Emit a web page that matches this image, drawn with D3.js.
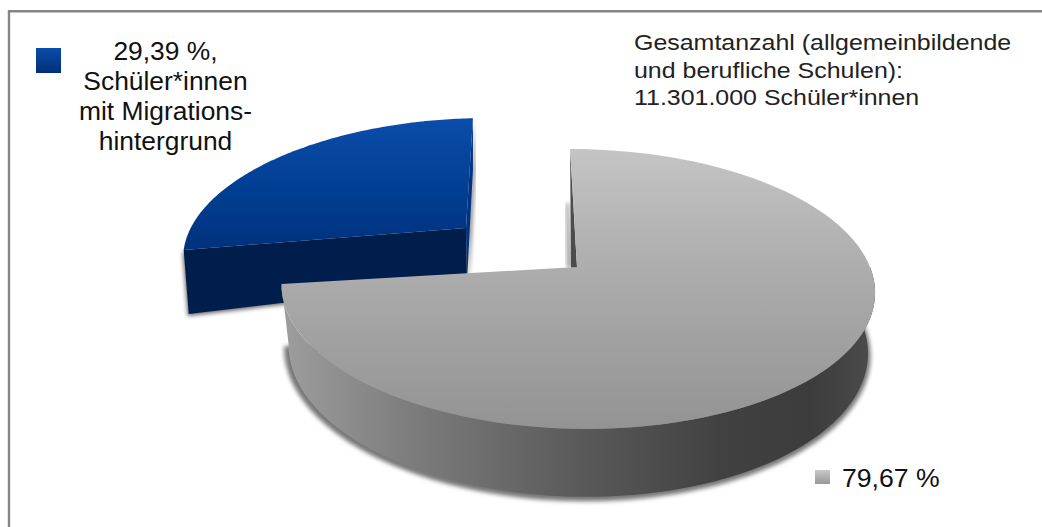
<!DOCTYPE html>
<html lang="de">
<head>
<meta charset="utf-8">
<script src="https://cdn.jsdelivr.net/npm/d3@7"></script>
<style>
  html, body { margin: 0; padding: 0; background: #fff; }
  svg { display: block; }
  text { font-family: "Liberation Sans", Arial, sans-serif; fill: #111; }
</style>
</head>
<body>
<svg id="chart" width="1042" height="527"></svg>
<script>
// Anteile der Schülerinnen und Schüler, wie sie in der Legende stehen
const categories = ["Schüler*innen mit Migrationshintergrund", "Übrige"];
const shares = [29.39, 79.67];
const legendLines = [["29,39 %,", "Schüler*innen", "mit Migrations-", "hintergrund"], ["79,67 %"]];
const noteLines = ["Gesamtanzahl (allgemeinbildende", "und berufliche Schulen):", "11.301.000 Schüler*innen"];

const svg = d3.select("#chart");
const defs = svg.append("defs");

function linear(id, x1, y1, x2, y2, stops) {
  const g = defs.append("linearGradient").attr("id", id)
    .attr("gradientUnits", "userSpaceOnUse")
    .attr("x1", x1).attr("y1", y1).attr("x2", x2).attr("y2", y2);
  stops.forEach(([o, c]) => g.append("stop").attr("offset", o).attr("stop-color", c));
}
linear("greyTop", 0, 150, 0, 430, [[0, "#c4c4c4"], [0.5, "#a9a9a9"], [1, "#939393"]]);
linear("greyWall", 288, 0, 868, 0, [[0, "#9c9c9c"], [0.2, "#7e7e7e"], [0.5, "#5a5a5a"], [0.75, "#414141"], [0.9, "#3c3c3c"], [1, "#4a4a4a"]]);
linear("blueTop", 0, 118, 0, 262, [[0, "#0a4daa"], [0.55, "#003d90"], [1, "#002f78"]]);
linear("blueKey", 0, 48, 0, 73, [[0, "#0a4daa"], [1, "#002f78"]]);
linear("greyKey", 0, 470, 0, 484, [[0, "#c8c8c8"], [1, "#989898"]]);
defs.append("filter").attr("id", "soft")
  .attr("x", "-5%").attr("y", "-5%").attr("width", "110%").attr("height", "110%")
  .append("feGaussianBlur").attr("stdDeviation", 2);

// Rahmenlinien links und oben
const frame = svg.append("g").attr("stroke", "#858585").attr("stroke-width", 2.4).attr("fill", "none");
frame.append("path").attr("d", d3.line()([[9, 527], [9, 11.2], [1042, 11.2]]));

// Tortensegmente im Uhrzeigersinn ab 12 Uhr, größtes Segment zuerst
const order = [1, 0];
const pie = d3.pie().sort(null).value(i => shares[i]);
const arcs = pie(order);
const greyArc = arcs[0], blueArc = arcs[1];

// Perspektivische Abbildung der Kreisscheibe auf die Bildebene
const persp = 0.157;
function projector(p) {
  const sx = d3.scaleLinear().domain([-1, 1]).range([p.x - p.rx, p.x + p.rx]);
  const sy = d3.scaleLinear().domain([-1, 1]).range([p.y - p.ry, p.y + p.ry]);
  return (theta, r = 1) => {
    const u = r * Math.sin(theta), v = -r * Math.cos(theta), w = 1 - persp * v;
    const a = u / w, b = v / w;
    return [sx(a) + (p.skew || 0) * b, sy(b) - (p.roll || 0) * a];
  };
}
const greyUp = projector({ x: 577, y: 267, rx: 293, ry: 136.5, skew: 8 });
const greyDn = projector({ x: 577, y: 326, rx: 286, ry: 144, skew: 8 });
const blueUp = projector({ x: 466, y: 228, rx: 278, ry: 127, skew: -8, roll: 6 });
const blueDn = projector({ x: 467, y: 281, rx: 274, ry: 127, skew: -8, roll: 17 });

const line = d3.line();
const sweep = (from, to) => d3.range(0, 121).map(i => from + (to - from) * i / 120);
const rim = (proj, from, to) => sweep(from, to).map(t => proj(t));
const poly = pts => line(pts) + "Z";
const shift = (pts, dx, dy) => pts.map(([x, y]) => [x + dx, y + dy]);

// Abgerücktes blaues Segment
const blue = svg.append("g");
const bS = blueArc.startAngle, bE = blueArc.endAngle;
const blueFront = [blueUp(bS), blueUp(0, 0), blueDn(0, 0), blueDn(bS)];
const blueSide = [blueUp(bE), [blueUp(bE)[0], blueUp(bE)[1] + 52], blueDn(0, 0), blueUp(0, 0)];
blue.append("path").attr("d", poly(shift(blueFront, -1, 2)))
  .attr("fill", "#666").attr("filter", "url(#soft)");
blue.append("path").attr("d", poly(shift(blueSide, 2, 2)))
  .attr("fill", "#777").attr("filter", "url(#soft)");
blue.append("path").attr("d", poly(blueSide)).attr("fill", "#003286");
blue.append("path").attr("d", poly(blueFront)).attr("fill", "#001d4b");
blue.append("path").attr("d", poly([...rim(blueUp, bE, bS), blueUp(0, 0)])).attr("fill", "url(#blueTop)");

// Großes graues Segment
const grey = svg.append("g");
const gS = greyArc.startAngle, gE = greyArc.endAngle;
const wallFrom = Math.PI * 0.5;
const wall = [...rim(greyUp, wallFrom, gE), ...rim(greyDn, gE, wallFrom)];
// Weicher Schlagschatten unter der Scheibe
const shadowRim = sweep(Math.PI * 0.45, gE).map(t => greyDn(t, 1.012));
grey.append("path").attr("d", poly(shift([...shadowRim, greyDn(0, 0)], -1, 2)))
  .attr("fill", "#777").attr("filter", "url(#soft)");
grey.append("path").attr("d", poly(wall)).attr("fill", "url(#greyWall)");
// Innenkante am Schnitt bei 12 Uhr
const apex = greyUp(0, 0);
grey.append("path")
  .attr("d", poly([[apex[0] - 11, 203], [apex[0] - 8, 203], [apex[0] - 5, apex[1] + 1], [apex[0] - 10, apex[1] + 1]]))
  .attr("fill", "#999").attr("filter", "url(#soft)");
grey.append("path")
  .attr("d", poly([greyUp(gS), apex, [apex[0], apex[1] + 2], [apex[0] - 6, apex[1] + 2]]))
  .attr("fill", "#4c4c4c");
grey.append("path")
  .attr("d", poly([...rim(greyUp, gS, gE), apex]))
  .attr("fill", "url(#greyTop)");

// Legende
const key = svg.append("g");
key.append("rect").attr("x", 36).attr("y", 48).attr("width", 25).attr("height", 25).attr("fill", "url(#blueKey)");
key.append("rect").attr("x", 815).attr("y", 470).attr("width", 15).attr("height", 14).attr("fill", "url(#greyKey)");
key.selectAll("text.blue").data(legendLines[0]).join("text").attr("class", "blue")
  .attr("x", 165.5).attr("y", (d, i) => 60 + i * 30)
  .attr("text-anchor", "middle").attr("font-size", 26.4).text(d => d);
key.selectAll("text.grey").data(legendLines[1]).join("text").attr("class", "grey")
  .attr("x", 842).attr("y", 487).attr("font-size", 26.6).text(d => d);

// Hinweis zur Gesamtzahl
svg.selectAll("text.note").data(noteLines).join("text").attr("class", "note")
  .attr("transform", (d, i) => `translate(634,${50 + i * 27.5}) scale(1.085,1)`)
  .attr("fill", "#222").style("fill", "#222")
  .attr("font-size", 23).text(d => d);
</script>
</body>
</html>
